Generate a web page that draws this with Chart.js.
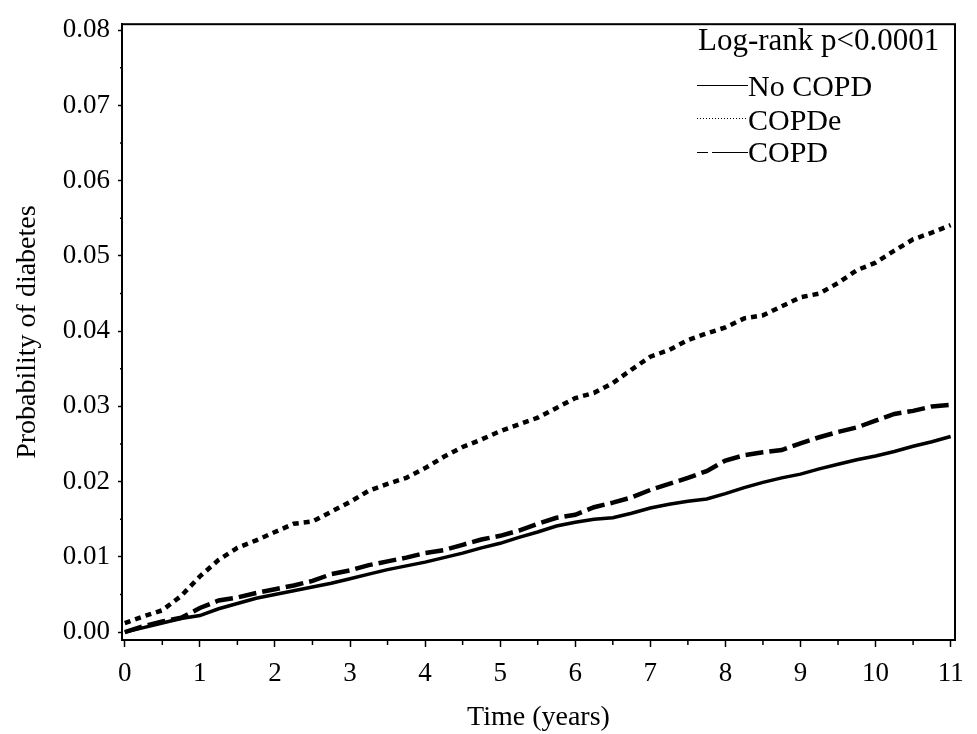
<!DOCTYPE html>
<html>
<head>
<meta charset="utf-8">
<script src="https://cdn.jsdelivr.net/npm/chart.js@4.4.1/dist/chart.umd.min.js"></script>
<style>
  body { margin: 0; background: #fff; }
</style>
</head>
<body>
<canvas id="kmChart" width="977" height="734"></canvas>
<script>
// Time grid (years) and cumulative probability of diabetes
const times = [0, 0.25, 0.5, 0.75, 1, 1.25, 1.5, 1.75, 2, 2.25, 2.5, 2.75, 3, 3.25, 3.5, 3.75,
  4, 4.25, 4.5, 4.75, 5, 5.25, 5.5, 5.75, 6, 6.25, 6.5, 6.75, 7, 7.25, 7.5, 7.75,
  8, 8.25, 8.5, 8.75, 9, 9.25, 9.5, 9.75, 10, 10.25, 10.5, 10.75, 11];

const noCopd = [0, 0.0006, 0.0012, 0.0018, 0.0022, 0.0031, 0.0038, 0.0045, 0.0050, 0.0055, 0.0060, 0.0065,
  0.0071, 0.0077, 0.0083, 0.0088, 0.0093, 0.0099, 0.0105, 0.0112, 0.0118, 0.0126, 0.0133, 0.0141,
  0.0146, 0.0150, 0.0152, 0.0158, 0.0165, 0.0170, 0.0174, 0.0177, 0.0184, 0.0192, 0.0199, 0.0205,
  0.0210, 0.0217, 0.0223, 0.0229, 0.0234, 0.0240, 0.0247, 0.0253, 0.0260];

const copdE = [0.0012, 0.0021, 0.0029, 0.0048, 0.0074, 0.0096, 0.0112, 0.0122, 0.0133, 0.0144, 0.0147, 0.0160,
  0.0173, 0.0188, 0.0197, 0.0205, 0.0218, 0.0233, 0.0246, 0.0256, 0.0267, 0.0276, 0.0285, 0.0298,
  0.0311, 0.0318, 0.0331, 0.0349, 0.0366, 0.0375, 0.0388, 0.0397, 0.0405, 0.0417, 0.0421, 0.0433,
  0.0445, 0.0450, 0.0464, 0.0481, 0.0491, 0.0507, 0.0522, 0.0531, 0.0541];

const copd = [0, 0.0008, 0.0014, 0.0019, 0.0032, 0.0042, 0.0046, 0.0052, 0.0057, 0.0062, 0.0068, 0.0077,
  0.0082, 0.0089, 0.0094, 0.0099, 0.0105, 0.0109, 0.0116, 0.0123, 0.0128, 0.0135, 0.0144, 0.0152,
  0.0156, 0.0166, 0.0172, 0.0179, 0.0189, 0.0197, 0.0205, 0.0214, 0.0228, 0.0235, 0.0239, 0.0242,
  0.0251, 0.0259, 0.0266, 0.0272, 0.0281, 0.0290, 0.0294, 0.0300, 0.0302];

const xTicks = [0, 1, 2, 3, 4, 5, 6, 7, 8, 9, 10, 11];
const yTicks = [0, 0.01, 0.02, 0.03, 0.04, 0.05, 0.06, 0.07, 0.08];
const legendTitle = "Log-rank p<0.0001";

const FONT = "'Liberation Serif', 'Times New Roman', serif";

function toPoints(vals) {
  return times.map((t, i) => ({ x: t, y: vals[i] }));
}

// Frame, minor ticks and legend
const extras = {
  id: "extras",
  afterDraw(chart) {
    const ctx = chart.ctx;
    const area = chart.chartArea;
    const xs = chart.scales.x, ys = chart.scales.y;
    ctx.save();
    ctx.strokeStyle = "#000";
    ctx.lineWidth = 2;
    ctx.strokeRect(area.left, area.top, area.right - area.left, area.bottom - area.top);

    // minor ticks at half units
    ctx.lineWidth = 1.5;
    ctx.beginPath();
    for (let i = 0; i < xTicks.length - 1; i++) {
      const px = xs.getPixelForValue((xTicks[i] + xTicks[i + 1]) / 2);
      ctx.moveTo(px, area.bottom);
      ctx.lineTo(px, area.bottom + 5);
    }
    for (let i = 0; i < yTicks.length - 1; i++) {
      const py = ys.getPixelForValue((yTicks[i] + yTicks[i + 1]) / 2);
      ctx.moveTo(area.left, py);
      ctx.lineTo(area.left - 2, py);
    }
    ctx.stroke();

    // legend
    ctx.fillStyle = "#000";
    ctx.textBaseline = "alphabetic";
    ctx.textAlign = "left";
    ctx.font = "31px " + FONT;
    ctx.fillText(legendTitle, 698, 50);
    ctx.font = "30px " + FONT;
    const rows = [
      { y: 85, base: 96, dash: [] },
      { y: 118, base: 130, dash: [1, 2] },
      { y: 152, base: 162, dash: [11, 4, 40, 0] }
    ];
    chart.data.datasets.forEach((ds, i) => {
      const r = rows[i];
      ctx.lineWidth = 1;
      ctx.setLineDash(r.dash);
      ctx.beginPath();
      ctx.moveTo(697, r.y + 0.5);
      ctx.lineTo(748, r.y + 0.5);
      ctx.stroke();
      ctx.setLineDash([]);
      ctx.fillText(ds.label, 748, r.base);
    });
    ctx.restore();
  }
};

new Chart(document.getElementById("kmChart"), {
  type: "line",
  data: {
    datasets: [
      { label: "No COPD", data: toPoints(noCopd), borderColor: "#000", borderWidth: 3.5,
        pointRadius: 0, tension: 0 },
      { label: "COPDe", data: toPoints(copdE), borderColor: "#000", borderWidth: 4.5,
        borderDash: [6, 5], pointRadius: 0, tension: 0 },
      { label: "COPD", data: toPoints(copd), borderColor: "#000", borderWidth: 4.5,
        borderDash: [18, 6], pointRadius: 0, tension: 0 }
    ]
  },
  options: {
    responsive: false,
    animation: false,
    layout: { padding: { top: 14, right: 22, left: 0, bottom: 0 } },
    plugins: { legend: { display: false }, tooltip: { enabled: false } },
    scales: {
      x: {
        type: "linear",
        min: -0.037,
        max: 11.058,
        afterBuildTicks: s => { s.ticks = xTicks.map(v => ({ value: v })); },
        afterFit: s => { s.height = 94; },
        grid: { drawOnChartArea: false, tickLength: 7, tickWidth: 1.5, tickColor: "#000" },
        border: { color: "#000", width: 2 },
        ticks: { color: "#000", padding: 11, maxRotation: 0, font: { family: FONT, size: 27 },
          callback: v => String(v) },
        title: { display: true, text: "Time (years)", color: "#000",
          font: { family: FONT, size: 28 }, padding: { top: 0, bottom: 0 } }
      },
      y: {
        type: "linear",
        min: -0.00105,
        max: 0.0808,
        afterBuildTicks: s => { s.ticks = yTicks.map(v => ({ value: v })); },
        afterFit: s => { s.width = 122; },
        grid: { drawOnChartArea: false, tickLength: 4, tickWidth: 1.5, tickColor: "#000" },
        border: { color: "#000", width: 2 },
        ticks: { color: "#000", padding: 8, font: { family: FONT, size: 27 },
          callback: v => v.toFixed(2) },
        title: { display: true, text: "Probability of diabetes", color: "#000",
          font: { family: FONT, size: 28 }, padding: { top: 11, bottom: 0 } }
      }
    }
  },
  plugins: [extras]
});
</script>
</body>
</html>
